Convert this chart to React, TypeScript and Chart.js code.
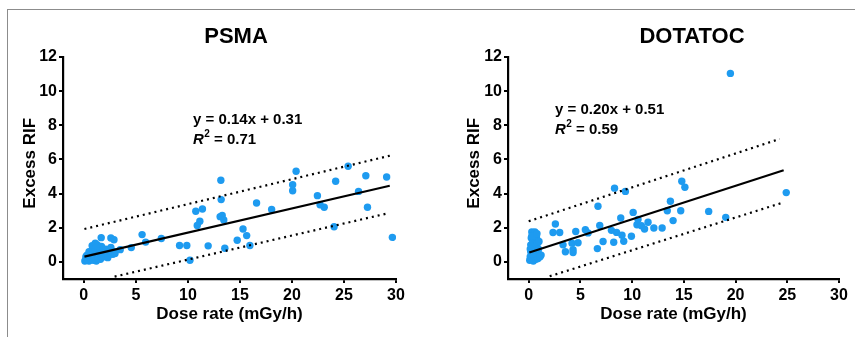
import React, { useEffect, useRef } from "react";
import { Chart, registerables } from "chart.js";

Chart.register(...registerables);

const FONT = '"Liberation Sans", Arial, Helvetica, sans-serif';
const POINT_COLOR = "#1E9BF0";

// Axis ticks
const xTickValues = [0, 5, 10, 15, 20, 25, 30];
const yTickValues = [0, 2, 4, 6, 8, 10, 12];

// ---------- PSMA ----------
const psmaX = [
  0.1, 0.2, 0.3, 0.4, 0.5, 0.5, 0.6, 0.7, 0.8, 0.9, 1.0, 1.0, 1.1, 1.2, 1.2, 1.3, 1.4, 1.5, 1.5, 1.6,
  1.7, 1.8, 1.9, 2.0, 2.1, 2.2, 2.4, 2.5, 2.6, 2.8, 2.9, 3.0, 0.8, 0.3, 1.1,
  0.2, 0.4, 0.6, 0.7, 0.9, 1.0, 1.3, 1.4, 1.7, 1.8, 2.3, 0.5, 1.2, 0.9,
  1.67, 2.6, 2.9, 3.5, 4.56, 5.6, 5.94, 7.45, 9.2, 9.9, 10.2, 10.76, 11.4, 11.15, 10.9, 11.95,
  13.17, 13.2, 13.1, 13.3, 13.45, 13.55, 14.74, 15.3, 15.65, 15.96, 16.6, 18.05, 20.07, 20.07,
  20.4, 22.45, 22.7, 23.1, 24.05, 24.2, 25.4, 26.4, 27.1, 27.26, 29.1, 29.65,
];
const psmaY = [
  0.05, 0.15, 0.1, 0.3, 0.2, 0.05, 0.45, 0.6, 0.35, 0.75, 0.9, 0.5, 0.2, 0.05, 0.65, 1.0, 0.8, 0.4, 0.6, 0.15,
  0.9, 0.7, 0.5, 0.3, 0.75, 0.55, 0.4, 0.65, 0.85, 0.45, 0.6, 0.5, 0.95, 0.4, 1.1,
  0.3, 0.1, 0.2, 0.35, 0.1, 0.3, 0.4, 0.2, 0.3, 0.45, 0.25, 0.6, 0.85, 0.55,
  1.42, 1.4, 1.3, 0.72, 0.84, 1.6, 1.16, 1.37, 0.96, 0.96, 0.1, 2.97, 3.1, 2.38, 2.14, 0.94,
  4.78, 3.65, 2.65, 2.72, 2.46, 0.8, 1.27, 1.93, 1.54, 0.96, 3.45, 3.07, 4.17, 4.52,
  5.31, 3.88, 3.35, 3.2, 2.06, 4.72, 5.6, 4.13, 5.05, 3.2, 4.97, 1.44,
];
const psmaFitX = [0.06, 29.4];
const psmaFitY = [0.31, 4.46];
const psmaUpperX = [0.06, 29.4];
const psmaUpperY = [1.93, 6.22];
const psmaLowerX = [2.96, 29.1];
const psmaLowerY = [-0.86, 2.83];

// ---------- DOTATOC ----------
const dotaX = [
  0.1, 0.15, 0.2, 0.2, 0.25, 0.3, 0.3, 0.35, 0.4, 0.45, 0.5, 0.5, 0.55, 0.6, 0.6, 0.65, 0.7, 0.7, 0.75, 0.8,
  0.85, 0.9, 0.95, 1.0, 1.1, 1.2, 0.3, 0.4, 0.15, 0.8, 1.0,
  2.35, 2.58, 3.0, 3.32, 3.55, 4.19, 4.29, 4.29, 4.55, 4.77, 5.48, 5.74, 6.64, 6.7, 6.87, 7.19,
  8.0, 8.22, 8.3, 8.5, 8.9, 9.02, 9.19, 9.35, 9.93, 10.1, 10.47, 10.57, 10.9, 11.2, 11.54, 12.1,
  12.9, 13.4, 13.7, 13.96, 14.7, 14.8, 15.1, 17.4, 19.05, 19.5, 24.9,
];
const dotaY = [
  0.1, 0.3, 0.6, 1.0, 1.4, 1.75, 0.2, 0.8, 1.2, 0.05, 0.5, 1.6, 0.3, 1.75, 0.9, 1.3, 0.15, 0.6, 1.45, 0.35,
  1.1, 0.2, 0.75, 0.45, 0.3, 0.4, 1.5, 0.45, 0.75, 1.65, 1.2,
  1.72, 2.22, 1.72, 1.0, 0.6, 1.1, 0.72, 0.55, 1.78, 1.12, 1.88, 1.7, 0.78, 3.26, 2.14, 1.2,
  1.85, 1.15, 4.32, 1.73, 2.57, 1.56, 1.21, 4.13, 1.5, 2.9, 2.18, 2.48, 2.12, 1.93, 2.32, 1.99,
  1.99, 3.0, 3.55, 2.42, 3.0, 4.72, 4.37, 2.96, 2.61, 11.04, 4.06,
];
const dotaFitX = [0.06, 24.65];
const dotaFitY = [0.55, 5.37];
const dotaUpperX = [0.0, 24.27];
const dotaUpperY = [2.38, 7.2];
const dotaLowerX = [2.03, 24.65];
const dotaLowerY = [-0.84, 3.49];

const zip = (xs: number[], ys: number[]) => xs.map((x, i) => ({ x, y: ys[i] }));

const textPlugin = {
  id: "panelText",
  afterDraw(chart: any, _args: any, opts: any) {
    const ctx = chart.ctx;
    ctx.save();
    ctx.fillStyle = "#000";
    ctx.textBaseline = "middle";
    ctx.textAlign = "center";
    ctx.font = `bold 22px ${FONT}`;
    ctx.fillText(opts.title, opts.titleX, opts.titleY);
    ctx.textAlign = "left";
    ctx.font = `bold 15px ${FONT}`;
    ctx.fillText(opts.eq, opts.annX, opts.annY);
    let x = opts.annX;
    const y2 = opts.annY + 20;
    ctx.font = `italic bold 15px ${FONT}`;
    ctx.fillText("R", x, y2);
    x += ctx.measureText("R").width;
    ctx.font = `bold 10px ${FONT}`;
    ctx.fillText("2", x + 0.5, y2 - 6);
    x += ctx.measureText("2").width + 0.5;
    ctx.font = `bold 15px ${FONT}`;
    ctx.fillText(" = " + opts.r2, x, y2);
    ctx.restore();
  },
};

type PanelProps = {
  left: number;
  top: number;
  width: number;
  height: number;
  yAxisWidth: number;
  padRight: number;
  yTitlePad: number;
  title: string;
  titleX: number;
  eq: string;
  r2: string;
  annX: number;
  annY: number;
  px: number[];
  py: number[];
  fx: number[];
  fy: number[];
  ux: number[];
  uy: number[];
  lx: number[];
  ly: number[];
};

function Panel(p: PanelProps) {
  const ref = useRef<HTMLCanvasElement | null>(null);
  useEffect(() => {
    if (!ref.current) return;
    const lineBase = {
      showLine: true,
      pointRadius: 0,
      borderColor: "#000",
      backgroundColor: "#000",
      fill: false,
      order: 0,
    };
    const chart = new Chart(ref.current, {
      type: "scatter",
      data: {
        datasets: [
          { ...lineBase, data: zip(p.fx, p.fy), borderWidth: 2.2 } as any,
          { ...lineBase, data: zip(p.ux, p.uy), borderWidth: 2.2, borderDash: [2, 4] } as any,
          { ...lineBase, data: zip(p.lx, p.ly), borderWidth: 2.2, borderDash: [2, 4] } as any,
          {
            data: zip(p.px, p.py),
            pointRadius: 3.7,
            pointBorderWidth: 0,
            backgroundColor: POINT_COLOR,
            borderColor: POINT_COLOR,
            order: 1,
          } as any,
        ],
      },
      options: {
        animation: false,
        responsive: false,
        devicePixelRatio: 1,
        layout: { padding: { left: 0, right: p.padRight, top: 45, bottom: 0 } },
        plugins: {
          legend: { display: false },
          tooltip: { enabled: false },
          panelText: {
            title: p.title,
            titleX: p.titleX,
            titleY: 25,
            eq: p.eq,
            r2: p.r2,
            annX: p.annX,
            annY: p.annY,
          },
        } as any,
        scales: {
          x: {
            type: "linear",
            min: -2,
            max: 30,
            afterBuildTicks: (s: any) => {
              s.ticks = xTickValues.map((v) => ({ value: v }));
            },
            afterFit: (s: any) => {
              s.height = 58;
            },
            ticks: { font: { family: FONT, size: 16, weight: "bold" }, color: "#000", padding: 3, maxRotation: 0 },
            grid: { drawOnChartArea: false, drawTicks: true, tickLength: 4, color: "#000", lineWidth: 2 },
            border: { display: true, color: "#000", width: 2.2 },
            title: {
              display: true,
              text: "Dose rate (mGy/h)",
              color: "#000",
              font: { family: FONT, size: 17, weight: "bold" },
              padding: { top: 0, bottom: 12 },
            },
          },
          y: {
            type: "linear",
            min: -1,
            max: 12,
            afterBuildTicks: (s: any) => {
              s.ticks = yTickValues.map((v) => ({ value: v }));
            },
            afterFit: (s: any) => {
              s.width = p.yAxisWidth;
            },
            ticks: { font: { family: FONT, size: 16, weight: "bold" }, color: "#000", padding: 2 },
            grid: { drawOnChartArea: false, drawTicks: true, tickLength: 4, color: "#000", lineWidth: 2 },
            border: { display: true, color: "#000", width: 2.2 },
            title: {
              display: true,
              text: "  Excess RIF",
              color: "#000",
              font: { family: FONT, size: 17, weight: "bold" },
              padding: { top: p.yTitlePad, bottom: 0 },
            },
          },
        },
      } as any,
      plugins: [textPlugin as any],
    });
    return () => chart.destroy();
  }, []);
  return (
    <div style={{ position: "absolute", left: p.left, top: p.top, width: p.width, height: p.height }}>
      <canvas ref={ref} width={p.width} height={p.height} style={{ display: "block" }} />
    </div>
  );
}

export default function App() {
  return (
    <div
      style={{
        position: "absolute",
        left: 0,
        top: 0,
        width: 855,
        height: 337,
        background: "#fff",
        overflow: "hidden",
      }}
    >
      <div style={{ position: "absolute", left: 7, top: 9, width: 848, height: 1, background: "#8c8c8c" }} />
      <div style={{ position: "absolute", left: 7, top: 9, width: 1, height: 328, background: "#8c8c8c" }} />
      <Panel
        left={10}
        top={12}
        width={410}
        height={325}
        yAxisWidth={53}
        padRight={24}
        yTitlePad={10}
        title="PSMA"
        titleX={226}
        eq="y = 0.14x + 0.31"
        r2="0.71"
        annX={183}
        annY={108}
        px={psmaX}
        py={psmaY}
        fx={psmaFitX}
        fy={psmaFitY}
        ux={psmaUpperX}
        uy={psmaUpperY}
        lx={psmaLowerX}
        ly={psmaLowerY}
      />
      <Panel
        left={440}
        top={12}
        width={415}
        height={325}
        yAxisWidth={68}
        padRight={16}
        yTitlePad={24}
        title="DOTATOC"
        titleX={252}
        eq="y = 0.20x + 0.51"
        r2="0.59"
        annX={115}
        annY={98}
        px={dotaX}
        py={dotaY}
        fx={dotaFitX}
        fy={dotaFitY}
        ux={dotaUpperX}
        uy={dotaUpperY}
        lx={dotaLowerX}
        ly={dotaLowerY}
      />
    </div>
  );
}
